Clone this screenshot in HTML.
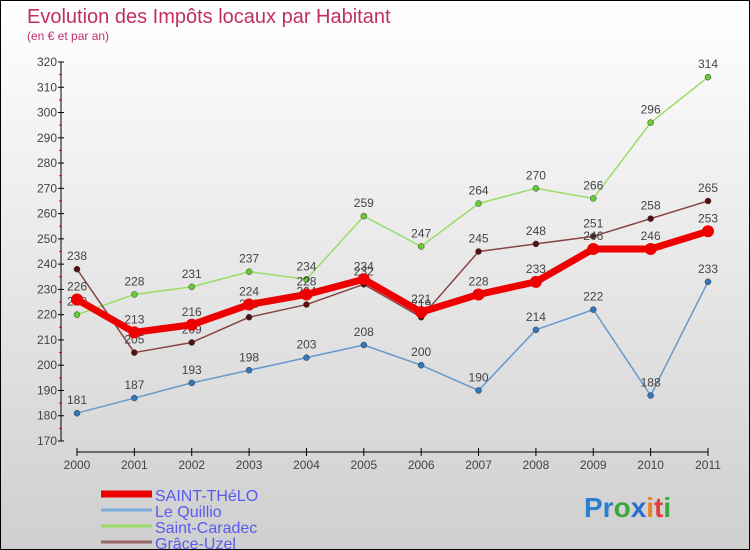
<!DOCTYPE html>
<html><head><meta charset="utf-8"><style>
body{margin:0}
#c{width:750px;height:550px;position:relative;box-sizing:border-box;border:1px solid #000;background:linear-gradient(#fff,#cfcfcf);font-family:"Liberation Sans",sans-serif;overflow:hidden}
svg{position:absolute;left:0;top:0}
</style></head><body>
<div id="c">
<svg width="750" height="550" id="s">
<text x="26" y="22" font-size="20" fill="#c0305e">Evolution des Impôts locaux par Habitant</text>
<text x="26" y="39" font-size="12" fill="#c0306e">(en € et par an)</text>
<text x="583" y="516" font-size="28" font-weight="bold"><tspan fill="#2a7fd0">Pr</tspan><tspan fill="#3aa83a">o</tspan><tspan fill="#2a6fd0">x</tspan><tspan fill="#f08020">i</tspan><tspan fill="#e04040">t</tspan><tspan fill="#3aa83a">i</tspan></text>
</svg>
</div>
<script>
const years=[2000,2001,2002,2003,2004,2005,2006,2007,2008,2009,2010,2011];
const yTicks=[170,180,190,200,210,220,230,240,250,260,270,280,290,300,310,320];
const names=["SAINT-THéLO","Le Quillio","Saint-Caradec","Grâce-Uzel"];
const saintThelo=[226,213,216,224,228,234,221,228,233,246,246,253];
const leQuillio=[181,187,193,198,203,208,200,190,214,222,188,233];
const saintCaradec=[220,228,231,237,234,259,247,264,270,266,296,314];
const graceUzel=[238,205,209,219,224,232,219,245,248,251,258,265];
const S=document.getElementById('s'),NS='http://www.w3.org/2000/svg';
function X(i){return 76+(i/(years.length-1))*631}
function Y(v){return 440-(v-170)*(379/150)}
function mk(t,a,p){const e=document.createElementNS(NS,t);for(const k in a)e.setAttribute(k,a[k]);(p||S).appendChild(e);return e}
let ya=mk('line',{x1:60,y1:61,x2:60,y2:440,stroke:'#000'});


yTicks.forEach(v=>{mk('line',{x1:57,x2:63,y1:Y(v),y2:Y(v),stroke:'#000'});
 if(v<320)mk('line',{x1:58,x2:61,y1:Y(v+5),y2:Y(v+5),stroke:'#e00'});
 const t=mk('text',{x:56,y:Y(v)+4,'text-anchor':'end','font-size':12,fill:'#444'});t.textContent=v;
 
 });
let xa=mk('line',{x1:76,y1:451,x2:707,y2:451,stroke:'#000'});


years.forEach((y,i)=>{mk('line',{x1:X(i),x2:X(i),y1:447,y2:455,stroke:'#000'});
 const t=mk('text',{x:X(i),y:468,'text-anchor':'middle','font-size':12,fill:'#444'});t.textContent=y;
 
 });
const series=[[saintCaradec,'#99dd66','#66cc33',1.5,3],[graceUzel,'#884444','#551111',1.5,3],[leQuillio,'#6699cc','#3377bb',1.5,3],[saintThelo,'#ee0000','#ee0000',7,6]];
const keys=['saint-caradec','grace-uzel','le-quillio','saint-thelo'];
series.forEach((s,k)=>{const d=s[0];
 const pl=mk('polyline',{points:d.map((v,i)=>X(i)+','+Y(v)).join(' '),fill:'none',stroke:s[1],'stroke-width':s[3],'stroke-linejoin':'round'});
 
 
 d.forEach((v,i)=>{const c=mk('circle',{cx:X(i),cy:Y(v),r:s[4],fill:s[2],stroke:'#333','stroke-width':s[3]>2?0:0.5});
  
  
  const t=mk('text',{x:X(i),y:Y(v)-9,'text-anchor':'middle','font-size':12,fill:'#444'});t.textContent=v;
  
  });});
const lc=[['#ee0000',7],['#7aaedd',3],['#99dd66',3],['#996666',3]];
names.forEach((n,i)=>{const y=493+i*16;
 const l=mk('line',{x1:100,x2:151,y1:y,y2:y,stroke:lc[i][0],'stroke-width':lc[i][1]});
 
 
 const t=mk('text',{x:154,y:y+7,'font-size':16,fill:'#5a5aee'});t.textContent=n;
 
 });
</script>
</body></html>
